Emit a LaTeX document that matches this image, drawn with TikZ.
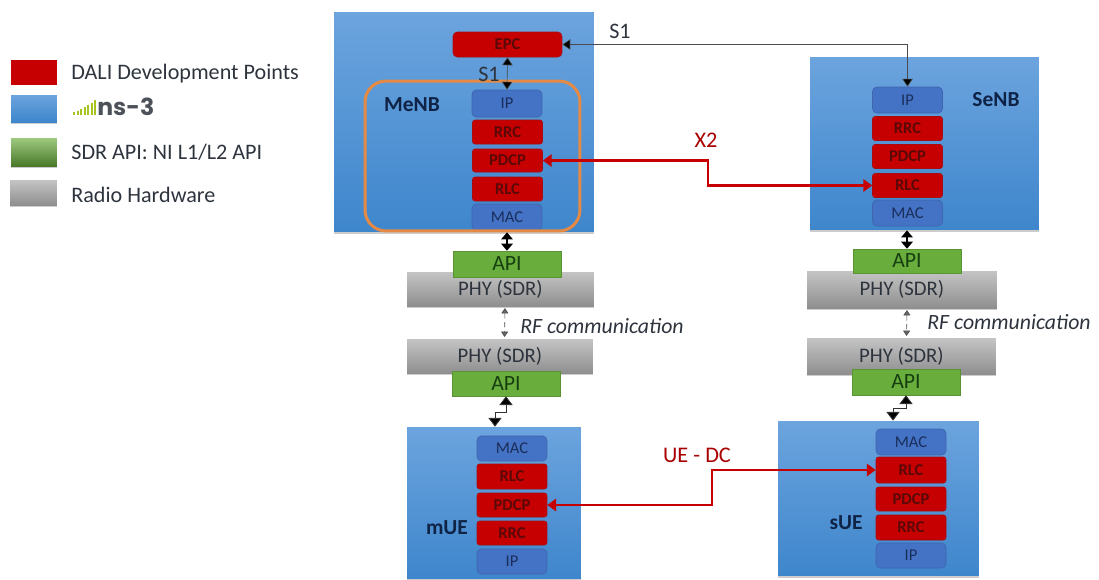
\documentclass[tikz,border=0pt]{standalone}
\usepackage{xcolor}
\usepackage{fontspec}
\setmainfont{Carlito}
\newfontfamily\logofont{Poppins}
\usetikzlibrary{positioning,calc,arrows.meta,shadows}
\definecolor{dalired}{HTML}{C60000}
\definecolor{daliline}{HTML}{A80C10}
\definecolor{dalitext}{HTML}{5A0808}
\definecolor{nstop}{HTML}{6CA4DE}
\definecolor{nsbottom}{HTML}{3E86CC}
\definecolor{stackblue}{HTML}{4472C4}
\definecolor{stackline}{HTML}{3F66AE}
\definecolor{stacktext}{HTML}{1A2E5C}
\definecolor{apigreen}{HTML}{69AD3C}
\definecolor{apitext}{HTML}{163F10}
\definecolor{phytop}{HTML}{C4C4C4}
\definecolor{phybottom}{HTML}{8F8F8F}
\definecolor{menborange}{HTML}{E58A45}
\definecolor{labeldark}{HTML}{0F2347}
\definecolor{textdark}{HTML}{2E343D}
\definecolor{logogreen}{HTML}{A6C420}

\begin{document}
\begin{tikzpicture}[x=0.02cm, y=-0.02cm,
  softshadow/.style={drop shadow={shadow xshift=0pt, shadow yshift=-1pt, opacity=0.2, fill=black}},
  nsbox/.style={top color=nstop, bottom color=nsbottom, softshadow, inner sep=0pt},
  dalilayer/.style={fill=dalired, draw=daliline, line width=0.4pt, rounded corners=1.5pt, minimum width=1.4cm, minimum height=0.48cm, inner sep=0pt, text=dalitext, font=\fontsize{9.4}{11}\selectfont\bfseries},
  nslayer/.style={fill=stackblue, draw=stackline, line width=0.4pt, rounded corners=2.5pt, minimum width=1.4cm, minimum height=0.52cm, inner sep=0pt, text=stacktext, font=\fontsize{9.4}{11}\selectfont},
  apibox/.style={fill=apigreen, draw=apigreen!85!black, line width=0.3pt, minimum width=2.16cm, minimum height=0.5cm, inner sep=0pt, text=apitext, font=\fontsize{12.4}{14}\selectfont},
  phybox/.style={top color=phytop, bottom color=phybottom, softshadow, minimum height=0.68cm, inner sep=0pt, text=textdark, font=\fontsize{11.8}{14}\selectfont},
  legendtext/.style={anchor=west, inner sep=0pt, text=textdark, font=\fontsize{12.6}{14}\selectfont},
  sitelabel/.style={inner sep=0pt, text=labeldark, font=\fontsize{12.2}{14}\selectfont\bfseries},
  rflabel/.style={anchor=west, inner sep=0pt, text=textdark, font=\fontsize{12.4}{14}\selectfont\itshape},
  thinlink/.style={{Triangle[length=4.5pt,width=6pt,fill=black]}-{Triangle[length=4.5pt,width=6pt,fill=black]}, draw=black!70, line width=0.35pt},
  thicklink/.style={{Triangle[length=4pt,width=6.5pt]}-{Triangle[length=4pt,width=6.5pt]}, draw=black, line width=0.9pt},
  steplink/.style={{Triangle[length=5pt,width=7.5pt,fill=black]}-{Triangle[length=5pt,width=7.5pt,fill=black]}, draw=black!80, line width=0.5pt},
  rflink/.style={{Triangle[length=3pt,width=4pt,fill=black!60]}-{Triangle[length=3pt,width=4pt,fill=black!60]}, draw=black!70, line width=0.35pt, densely dashed, shorten >=1pt, shorten <=1pt},
  redlink/.style={{Triangle[length=5pt,width=7pt]}-{Triangle[length=5pt,width=7pt]}, draw=dalired, line width=1.4pt},
  redlabel/.style={inner sep=0pt, text=dalired!85!black, font=\fontsize{12.7}{14}\selectfont}]
\useasboundingbox (0,0) rectangle (1099,579);
% legend
\node[fill=dalired, minimum width=0.92cm, minimum height=0.5cm, inner sep=0pt] (keydali) at (34,72.5) {};
\node[nsbox, minimum width=0.92cm, minimum height=0.54cm] (keyns) at (34,108.5) {};
\node[top color=apigreen!65!white, bottom color=apigreen!70!black, softshadow, minimum width=0.92cm, minimum height=0.56cm, inner sep=0pt] (keysdr) at (34,152) {};
\node[top color=phytop, bottom color=phybottom, softshadow, minimum width=0.94cm, minimum height=0.5cm, inner sep=0pt] (keyradio) at (33.5,192.5) {};
\node[legendtext] (txtdali) at (71,74) {DALI Development Points};
\foreach \i/\h in {0/3,1/4,2/6,3/8,4/10,5/12,6/15}
  \fill[logogreen] ({73+3.5*\i},115) rectangle ({75.4+3.5*\i},115-\h);
\node[anchor=west, inner sep=0pt, text=textdark!85, font=\logofont\bfseries\fontsize{13.4}{16}\selectfont] (txtns) at (97,107) {ns-3};
\node[legendtext] (txtsdr) at (71,152) {SDR API: NI L1/L2 API};
\node[legendtext] (txtradio) at (71,195) {Radio Hardware};
% MeNB
\node[nsbox, minimum width=5.2cm, minimum height=4.4cm] (menb) at (464,122) {};
\node[dalilayer, minimum width=2.18cm, minimum height=0.5cm, rounded corners=2.5pt] (epc) at (507.5,44.5) {EPC};
\node[nslayer, minimum height=0.54cm] (menbip) at (507,103.5) {IP};
\node[dalilayer] (menbrrc) at (507.5,132) {RRC};
\node[dalilayer, minimum height=0.46cm] (menbpdcp) at (507.5,160.5) {PDCP};
\node[dalilayer] (menbrlc) at (507.5,189) {RLC};
\node[nslayer] (menbmac) at (507,217) {MAC};
\node[draw=menborange, line width=1.7pt, rounded corners=0.42cm, minimum width=4.3cm, minimum height=3cm, inner sep=0pt] (menbring) at (472.5,156) {};
\node[sitelabel] (menblabel) at (412,105) {MeNB};
\node[inner sep=0pt, text=textdark, font=\fontsize{12.6}{14}\selectfont] (s1inner) at (489,74) {S1};
% SeNB
\node[nsbox, minimum width=4.58cm, minimum height=3.46cm] (senb) at (924.5,143.5) {};
\node[nslayer] (senbip) at (907.5,100) {IP};
\node[dalilayer] (senbrrc) at (907.5,128.5) {RRC};
\node[dalilayer] (senbpdcp) at (907.5,156.5) {PDCP};
\node[dalilayer] (senbrlc) at (907.5,185.5) {RLC};
\node[nslayer] (senbmac) at (907.5,213) {MAC};
\node[sitelabel] (senblabel) at (996,100) {SeNB};
% radio part, left
\node[phybox, minimum width=3.74cm] (phymenb) at (500.5,289) {PHY (SDR)};
\node[apibox, minimum height=0.52cm] (apimenb) at (507,264) {API};
\node[phybox, minimum width=3.72cm] (phymue) at (500,356) {PHY (SDR)};
\node[apibox] (apimue) at (506,383.5) {API};
\node[rflabel] (rfleft) at (520,326) {RF communication};
% radio part, right
\node[phybox, minimum width=3.8cm, minimum height=0.74cm] (physenb) at (902,289.5) {PHY (SDR)};
\node[apibox, minimum height=0.48cm] (apisenb) at (907,261) {API};
\node[phybox, minimum width=3.78cm, minimum height=0.72cm] (physue) at (901.5,356) {PHY (SDR)};
\node[apibox, minimum height=0.52cm] (apisue) at (906,382) {API};
\node[rflabel] (rfright) at (927,322) {RF communication};
% mUE
\node[nsbox, minimum width=3.48cm, minimum height=3.04cm] (mue) at (494,503) {};
\node[nslayer, minimum height=0.5cm] (muemac) at (512,448.5) {MAC};
\node[dalilayer, minimum height=0.5cm] (muerlc) at (512,476.5) {RLC};
\node[dalilayer] (muepdcp) at (512,505) {PDCP};
\node[dalilayer] (muerrc) at (512,533) {RRC};
\node[nslayer, minimum height=0.5cm] (mueip) at (512,561.5) {IP};
\node[sitelabel] (muelabel) at (447,528) {mUE};
% sUE
\node[nsbox, minimum width=4.02cm, minimum height=3.1cm] (sue) at (878.5,498.5) {};
\node[nslayer] (suemac) at (911,442) {MAC};
\node[dalilayer, minimum height=0.52cm] (suerlc) at (911,470) {RLC};
\node[dalilayer] (suepdcp) at (911,499) {PDCP};
\node[dalilayer, minimum height=0.5cm] (suerrc) at (911,527.5) {RRC};
\node[nslayer, minimum height=0.5cm] (sueip) at (911,555.5) {IP};
\node[sitelabel] (suelabel) at (846,523) {sUE};
% links
\coordinate (muestep) at (495,412);
\coordinate (suestep) at (893,408);
\coordinate (x2turn) at (708,170);
\coordinate (dcturn) at (712,490);
\draw[thinlink] (epc.south) -- (menbip.north);
\draw[thinlink] (epc.east) -| (senbip.north);
\draw[thicklink] (apimenb.north |- menb.south) -- (apimenb.north);
\draw[thicklink] (apisenb.north |- senb.south) -- (apisenb.north);
\draw[rflink] ([xshift=0.09cm]phymenb.south) -- ([xshift=0.09cm]phymue.north);
\draw[rflink] ([xshift=0.1cm]physenb.south) -- ([xshift=0.1cm]physue.north);
\draw[steplink] (apimue.south) |- (muestep) -- (muestep |- mue.north);
\draw[steplink] (apisue.south) |- (suestep) -- (suestep |- sue.north);
\draw[redlink] (menbpdcp.east) -| (x2turn) |- (senbrlc.west);
\draw[redlink] (muepdcp.east) -| (dcturn) |- (suerlc.west);
\node[inner sep=0pt, text=textdark, font=\fontsize{12.6}{14}\selectfont] (s1outer) at (620,31) {S1};
\node[redlabel] (x2label) at (706,140) {X2};
\node[redlabel] (dclabel) at (697,455) {UE - DC};
\end{tikzpicture}
\end{document}
